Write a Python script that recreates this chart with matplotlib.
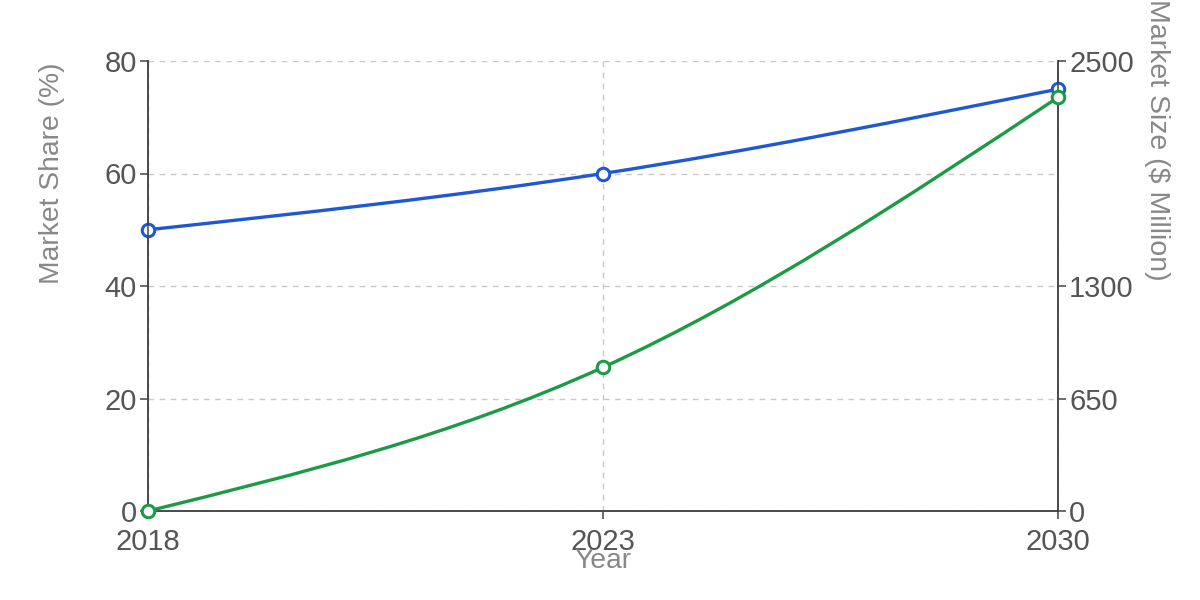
import matplotlib.pyplot as plt
from matplotlib.path import Path
from matplotlib.patches import PathPatch
import numpy as np

years = ['2018', '2023', '2030']
market_share = [50, 60, 75]          # %
market_size = [0, 830, 2390]         # $ Million
share_ticks = [0, 20, 40, 60, 80]
size_ticks = [0, 650, 1300, 2600]
size_tick_labels = ['0', '650', '1300', '2500']

BLUE = '#1f58d0'
GREEN = '#1c9a45'
TICK_COLOR = '#555555'
LABEL_COLOR = '#888888'
SPINE_COLOR = '#444444'

plt.rcParams['font.family'] = ['Liberation Sans', 'DejaVu Sans']


def monotone_path(xs, ys):
    # monotone cubic (like d3.curveMonotoneX) as bezier segments
    xs = np.asarray(xs, float)
    ys = np.asarray(ys, float)
    h = np.diff(xs)
    s = np.diff(ys) / h
    n = len(xs)
    t = np.zeros(n)
    for i in range(1, n - 1):
        p = (s[i - 1] * h[i] + s[i] * h[i - 1]) / (h[i - 1] + h[i])
        t[i] = (np.sign(s[i - 1]) + np.sign(s[i])) * min(abs(s[i - 1]), abs(s[i]), 0.5 * abs(p))
    t[0] = (3 * s[0] - t[1]) / 2
    t[-1] = (3 * s[-1] - t[-2]) / 2
    verts = [(xs[0], ys[0])]
    codes = [Path.MOVETO]
    for i in range(n - 1):
        dx = h[i] / 3
        verts += [(xs[i] + dx, ys[i] + dx * t[i]),
                  (xs[i + 1] - dx, ys[i + 1] - dx * t[i + 1]),
                  (xs[i + 1], ys[i + 1])]
        codes += [Path.CURVE4] * 3
    return Path(verts, codes)


fig = plt.figure(figsize=(12, 6), dpi=100)
ax = fig.add_axes([148 / 1200, 89 / 600, 910 / 1200, 450 / 600])
ax2 = ax.twinx()

x = np.arange(len(years))

ax.set_xlim(0, len(years) - 1)
ax.set_ylim(0, 80)
ax2.set_ylim(0, 2600)

ax.grid(True, color='#c8c8c8', linestyle=(0, (4, 4)), linewidth=1)
ax.set_axisbelow(True)

ax.add_patch(PathPatch(monotone_path(x, market_share), facecolor='none',
                       edgecolor=BLUE, linewidth=2.4, zorder=3))
ax.plot(x, market_share, linestyle='none', marker='o', markersize=9,
        markerfacecolor='white', markeredgecolor=BLUE, markeredgewidth=2.2,
        zorder=4, clip_on=False)

ax2.add_patch(PathPatch(monotone_path(x, market_size), facecolor='none',
                        edgecolor=GREEN, linewidth=2.4, zorder=3))
ax2.plot(x, market_size, linestyle='none', marker='o', markersize=9,
         markerfacecolor='white', markeredgecolor=GREEN, markeredgewidth=2.2,
         zorder=4, clip_on=False)

ax.set_xticks(x)
ax.set_xticklabels(years)
ax.set_yticks(share_ticks)
ax2.set_yticks(size_ticks)
ax2.set_yticklabels(size_tick_labels)

for a in (ax, ax2):
    a.tick_params(colors=SPINE_COLOR, labelcolor=TICK_COLOR, labelsize=21,
                  length=6, width=1.1, pad=2)
    a.spines['top'].set_visible(False)
    for sp in ('left', 'right', 'bottom'):
        a.spines[sp].set_color(SPINE_COLOR)
        a.spines[sp].set_linewidth(1.1)
ax.tick_params(axis='x', pad=6)

fig.text(52 / 1200, 1 - 62 / 600, 'Market Share (%)', rotation=90,
         ha='center', va='top', fontsize=20.3, color=LABEL_COLOR)
fig.text(1157 / 1200, 1 - 281 / 600, 'Market Size ($ Million)', rotation=270,
         ha='center', va='bottom', fontsize=20.5, color=LABEL_COLOR)
fig.text(603 / 1200, 1 - 561 / 600, 'Year', ha='center', va='center',
         fontsize=20.3, color=LABEL_COLOR)

fig.savefig('out.png', dpi=100)
